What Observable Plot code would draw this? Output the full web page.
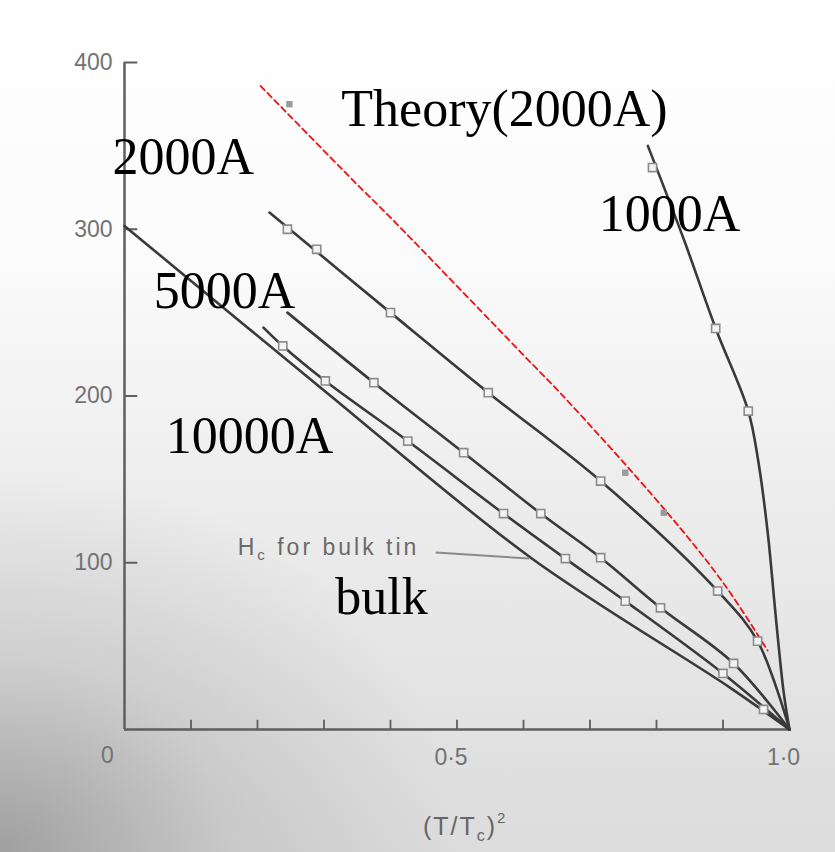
<!DOCTYPE html>
<html>
<head>
<meta charset="utf-8">
<script src="https://cdn.jsdelivr.net/npm/d3@7"></script>
<script src="https://cdn.jsdelivr.net/npm/@observablehq/plot@0.6"></script>
<style>
  html, body { margin: 0; padding: 0; }
  body {
    width: 835px; height: 852px; overflow: hidden;
    background:
      radial-gradient(ellipse 55% 45% at 0% 100%, rgba(110,110,110,0.55) 0%, rgba(140,140,140,0.25) 50%, rgba(160,160,160,0) 100%),
      linear-gradient(to bottom, #ffffff 0%, #fbfbfb 30%, #ececec 60%, #dcdcdc 100%);
  }
  #chart svg { display: block; }
</style>
</head>
<body>
<div id="chart"></div>
<script>
// ---- data (t^2 = (T/Tc)^2, H in oersted) ----
const bulkT2 = [0, 0.295, 0.611, 0.911, 1.0];
const bulkH  = [302, 205, 103, 25, 0];

const t10000LineT2 = [0.209, 0.238, 0.302, 0.426, 0.57, 0.663, 0.753, 0.9, 1.0];
const t10000LineH  = [241, 230, 209, 173, 129.5, 102.5, 77, 33.6, 0];
const t10000PtsT2  = [0.238, 0.302, 0.426, 0.57, 0.663, 0.753, 0.9, 0.961];
const t10000PtsH   = [230, 209, 173, 129.5, 102.5, 77, 33.6, 12];

const t5000LineT2 = [0.245, 0.375, 0.51, 0.626, 0.716, 0.806, 0.916, 1.0];
const t5000LineH  = [250, 208, 166, 129.5, 103, 73, 39.6, 0];
const t5000PtsT2  = [0.375, 0.51, 0.626, 0.716, 0.806, 0.916];
const t5000PtsH   = [208, 166, 129.5, 103, 73, 39.6];

const t2000LineT2 = [0.218, 0.4, 0.547, 0.716, 0.892, 0.952, 1.0];
const t2000LineH  = [310, 250, 202, 149, 83, 53, 0];
const t2000PtsT2  = [0.245, 0.289, 0.4, 0.547, 0.716, 0.892, 0.952];
const t2000PtsH   = [300, 288, 250, 202, 149, 83, 53];

const t1000LineT2 = [0.787, 0.841, 0.889, 0.938, 0.953, 0.967, 0.98, 0.991, 1.0];
const t1000LineH  = [350, 294, 240.5, 191, 161, 119, 65, 23, 0];
const t1000PtsT2  = [0.794, 0.889, 0.938];
const t1000PtsH   = [337, 240.5, 191];

const filledT2 = [0.248, 0.753, 0.811];
const filledH  = [375, 154, 130];

const theoryT2 = [0.2045, 0.347, 0.4, 0.611, 0.656, 0.811, 0.901, 0.967];
const theoryH  = [386, 328, 307, 220, 201.5, 132.5, 87.6, 47.4];

const xTicks = [0.1, 0.2, 0.3, 0.4, 0.5, 0.6, 0.7, 0.8, 0.9];
const yTicks = [100, 200, 300, 400];
const yTickLabels = ["100", "200", "300", "400"];
const xTickVals = [0.5, 1.0];
const xTickLabels = ["0·5", "1·0"];

const labelText = ["Theory(2000A)", "2000A", "1000A", "5000A", "10000A", "bulk"];
const labelT2   = [0.326, -0.018, 0.713, 0.044, 0.062, 0.317];
const labelH    = [362, 333, 299, 253, 166, 69];

// ---- build tables ----
const lineSeries = [
  ["bulk", bulkT2, bulkH],
  ["10000A", t10000LineT2, t10000LineH],
  ["5000A", t5000LineT2, t5000LineH],
  ["2000A", t2000LineT2, t2000LineH],
  ["1000A", t1000LineT2, t1000LineH]
];
const lines = lineSeries.flatMap(([name, xs, ys]) => xs.map((x, i) => ({name, t2: x, h: ys[i]})));
const ptSeries = [
  ["10000A", t10000PtsT2, t10000PtsH],
  ["5000A", t5000PtsT2, t5000PtsH],
  ["2000A", t2000PtsT2, t2000PtsH],
  ["1000A", t1000PtsT2, t1000PtsH]
];
const pts = ptSeries.flatMap(([name, xs, ys]) => xs.map((x, i) => ({name, t2: x, h: ys[i]})));
const filled = filledT2.map((x, i) => ({t2: x, h: filledH[i]}));
const theory = theoryT2.map((x, i) => ({t2: x, h: theoryH[i]}));
const labels = labelText.map((t, i) => ({text: t, t2: labelT2[i], h: labelH[i]}));

const axisColor = "#5e5e5e";
const lineColor = "#3a3a3a";
const tickTextColor = "#727272";
const sans = "Liberation Sans, Arial, sans-serif";

const chart = Plot.plot({
  width: 835,
  height: 852,
  marginTop: 62,
  marginRight: 46,
  marginBottom: 123,
  marginLeft: 124,
  style: {background: "transparent", overflow: "visible"},
  x: {domain: [0, 1], axis: null},
  y: {domain: [0, 400], axis: null},
  marks: [
    // axes
    Plot.ruleX([0], {y1: 0, y2: 400, stroke: axisColor, strokeWidth: 2.5}),
    Plot.ruleY([0], {x1: 0, x2: 1, stroke: axisColor, strokeWidth: 2.5}),
    Plot.ruleX(xTicks, {x: d => d, y1: 0, y2: 5.5, stroke: axisColor, strokeWidth: 1.8}),
    Plot.ruleY(yTicks, {y: d => d, x1: 0, x2: 0.02, stroke: axisColor, strokeWidth: 2}),
    Plot.text(yTicks, {x: 0, y: d => d, text: (d, i) => yTickLabels[i], dx: -12, textAnchor: "end",
      fontSize: 23, fontFamily: sans, fill: tickTextColor, lineAnchor: "middle", letterSpacing: 3}),
    Plot.text([0], {x: 0, y: 0, text: () => "0", dx: -17, dy: 26, fontSize: 23,
      fontFamily: sans, fill: tickTextColor}),
    Plot.text(xTickVals, {x: d => d, y: 0, text: (d, i) => xTickLabels[i], dy: 28, dx: -6, fontSize: 23,
      fontFamily: sans, fill: tickTextColor, letterSpacing: 2}),
    // theory curve
    Plot.line(theory, {x: "t2", y: "h", stroke: "#ee1111", strokeWidth: 1.8, strokeDasharray: "6,4", curve: "catmull-rom"}),
    // data lines
    Plot.line(lines, {x: "t2", y: "h", z: "name", stroke: lineColor, strokeWidth: 2.6, curve: "catmull-rom"}),
    // pointer for bulk tin
    Plot.link([{a: 0.468, b: 106.1, c: 0.609, d: 102.5}], {x1: "a", y1: "b", x2: "c", y2: "d", stroke: "#8a8a8a", strokeWidth: 2}),
    // open squares
    Plot.dot(pts, {x: "t2", y: "h", symbol: "square", r: 4.6, fill: "#f3f3f3", stroke: "#8c8c8c", strokeWidth: 1.6}),
    // filled small squares
    Plot.dot(filled, {x: "t2", y: "h", symbol: "square", r: 3.6, fill: "#9a9a9a", stroke: "none"}),
    // labels
    Plot.text(labels, {x: "t2", y: "h", text: "text", textAnchor: "start", lineAnchor: "bottom",
      fontSize: 52, fontFamily: "Liberation Serif, Times New Roman, serif", fill: "#000"})
  ]
});

document.getElementById("chart").appendChild(chart);

// subscripted annotations, positioned through the chart's scales
const sx = chart.scale("x"), sy = chart.scale("y");
const svg = d3.select(chart);
const hc = svg.append("text")
  .attr("x", sx.apply(0.171)).attr("y", sy.apply(104.3))
  .attr("text-anchor", "start")
  .attr("font-family", sans)
  .attr("font-size", 23).attr("letter-spacing", 3).attr("fill", "#6a6a6a");
hc.append("tspan").text("H");
hc.append("tspan").attr("font-size", 15).attr("dy", 5).text("c");
hc.append("tspan").attr("dy", -5).text(" for bulk tin");

const xl = svg.append("text")
  .attr("x", sx.apply(0.513)).attr("y", sy.apply(-63.5))
  .attr("text-anchor", "middle")
  .attr("font-family", sans)
  .attr("font-size", 25).attr("letter-spacing", 2).attr("fill", "#666");
xl.append("tspan").text("(T/T");
xl.append("tspan").attr("font-size", 16).attr("dy", 6).text("c");
xl.append("tspan").attr("dy", -6).text(")");
xl.append("tspan").attr("font-size", 15).attr("dy", -12).text("2");
</script>
</body>
</html>
